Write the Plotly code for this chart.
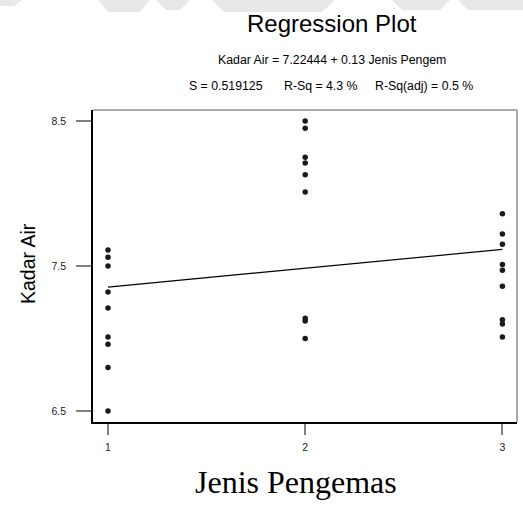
import plotly.graph_objects as go

# Moisture content (Kadar Air) per packaging type (Jenis Pengemas)
pengemas_1 = [7.61, 7.56, 7.50, 7.32, 7.21, 7.01, 6.96, 6.80, 6.50]
pengemas_2 = [8.50, 8.45, 8.25, 8.21, 8.13, 8.01, 7.14, 7.12, 7.00]
pengemas_3 = [7.86, 7.72, 7.65, 7.51, 7.47, 7.36, 7.13, 7.10, 7.01]
jenis_levels = [1, 2, 3]

# Fitted regression reported in the header
intercept = 7.22444
slope = 0.13
s_value = "0.519125"
r_sq = "4.3 %"
r_sq_adj = "0.5 %"

y_ticks = [6.5, 7.5, 8.5]
x_ticks = [1, 2, 3]

xs, ys = [], []
for lvl, vals in zip(jenis_levels, [pengemas_1, pengemas_2, pengemas_3]):
    xs += [lvl] * len(vals)
    ys += vals

W, H = 523, 507
L, R, T, B = 93, 6, 110, 85
PW, PH = W - L - R, H - T - B


def px(x):
    return (x - L) / PW


def py(y):
    return (H - B - y) / PH


SANS = "Liberation Sans, Arial, sans-serif"
SERIF = "Liberation Serif, Times New Roman, serif"

fig = go.Figure()

fig.add_trace(go.Scatter(
    x=xs, y=ys, mode="markers",
    marker=dict(size=5.5, color="#1a1a1a", line=dict(width=0)),
    showlegend=False, hoverinfo="x+y",
))

line_x = [min(jenis_levels), max(jenis_levels)]
line_y = [intercept + slope * v for v in line_x]
fig.add_trace(go.Scatter(
    x=line_x, y=line_y, mode="lines",
    line=dict(color="black", width=1.2),
    showlegend=False, hoverinfo="skip",
))

# faint background band along the top edge
band_color = "#e8e8e8"
bands = [
    [(0, 0), (22, 0), (14, 6), (0, 6)],
    [(98, 0), (150, 0), (140, 12), (108, 12)],
    [(156, 0), (190, 0), (180, 10), (166, 10)],
    [(212, 0), (335, 0), (322, 12), (224, 12)],
    [(392, 0), (450, 0), (440, 10), (402, 10)],
    [(458, 0), (523, 0), (523, 10), (468, 10)],
]
shapes = []
for poly in bands:
    path = "M " + " L ".join(f"{px(a)},{py(b)}" for a, b in poly) + " Z"
    shapes.append(dict(type="path", xref="paper", yref="paper", path=path,
                       fillcolor=band_color, line=dict(width=0), layer="below"))

# gray top and right frame edges
shapes.append(dict(type="line", xref="paper", yref="paper", x0=0, x1=1, y0=1, y1=1,
                   line=dict(color="#8c8c8c", width=1.5)))
shapes.append(dict(type="line", xref="paper", yref="paper", x0=1, x1=1, y0=0, y1=1,
                   line=dict(color="#8c8c8c", width=1.5)))

annotations = [
    dict(text="Regression Plot", x=px(332), y=py(23), font=dict(family=SANS, size=24, color="black")),
    dict(text=f"Kadar Air = {intercept} + {slope} Jenis Pengem", x=px(332), y=py(60),
         font=dict(family=SANS, size=12.3, color="black")),
    dict(text=f"S = {s_value}", x=px(226), y=py(86), font=dict(family=SANS, size=12.3, color="black")),
    dict(text=f"R-Sq = {r_sq}", x=px(320.5), y=py(86), font=dict(family=SANS, size=12.3, color="black")),
    dict(text=f"R-Sq(adj) = {r_sq_adj}", x=px(424), y=py(86), font=dict(family=SANS, size=12.3, color="black")),
    dict(text="Kadar Air", x=px(28), y=py(264), textangle=-90,
         font=dict(family=SANS, size=19.5, color="black")),
    dict(text="Jenis Pengemas", x=px(296), y=py(482),
         font=dict(family=SERIF, size=32, color="black")),
]
for a in annotations:
    a.update(xref="paper", yref="paper", showarrow=False, xanchor="center", yanchor="middle")

fig.update_layout(
    width=W, height=H,
    margin=dict(l=L, r=R, t=T, b=B, pad=0),
    paper_bgcolor="white", plot_bgcolor="white",
    shapes=shapes, annotations=annotations,
    showlegend=False,
)

fig.update_xaxes(
    range=[0.924, 3.074], tickvals=x_ticks, ticktext=[str(v) for v in x_ticks],
    showgrid=False, zeroline=False,
    showline=True, linecolor="black", linewidth=1.5,
    ticks="outside", ticklen=11, tickwidth=1.5, tickcolor="#808080",
    tickfont=dict(family=SANS, size=10.5, color="#222"),
    ticklabelstandoff=4,
)
fig.update_yaxes(
    range=[6.424, 8.576], tickvals=y_ticks, ticktext=[str(v) for v in y_ticks],
    showgrid=False, zeroline=False,
    showline=True, linecolor="black", linewidth=1.5,
    ticks="outside", ticklen=15, tickwidth=1.5, tickcolor="#808080",
    tickfont=dict(family=SANS, size=10.5, color="#222"),
    ticklabelstandoff=8,
)

fig.write_html("out.html")
